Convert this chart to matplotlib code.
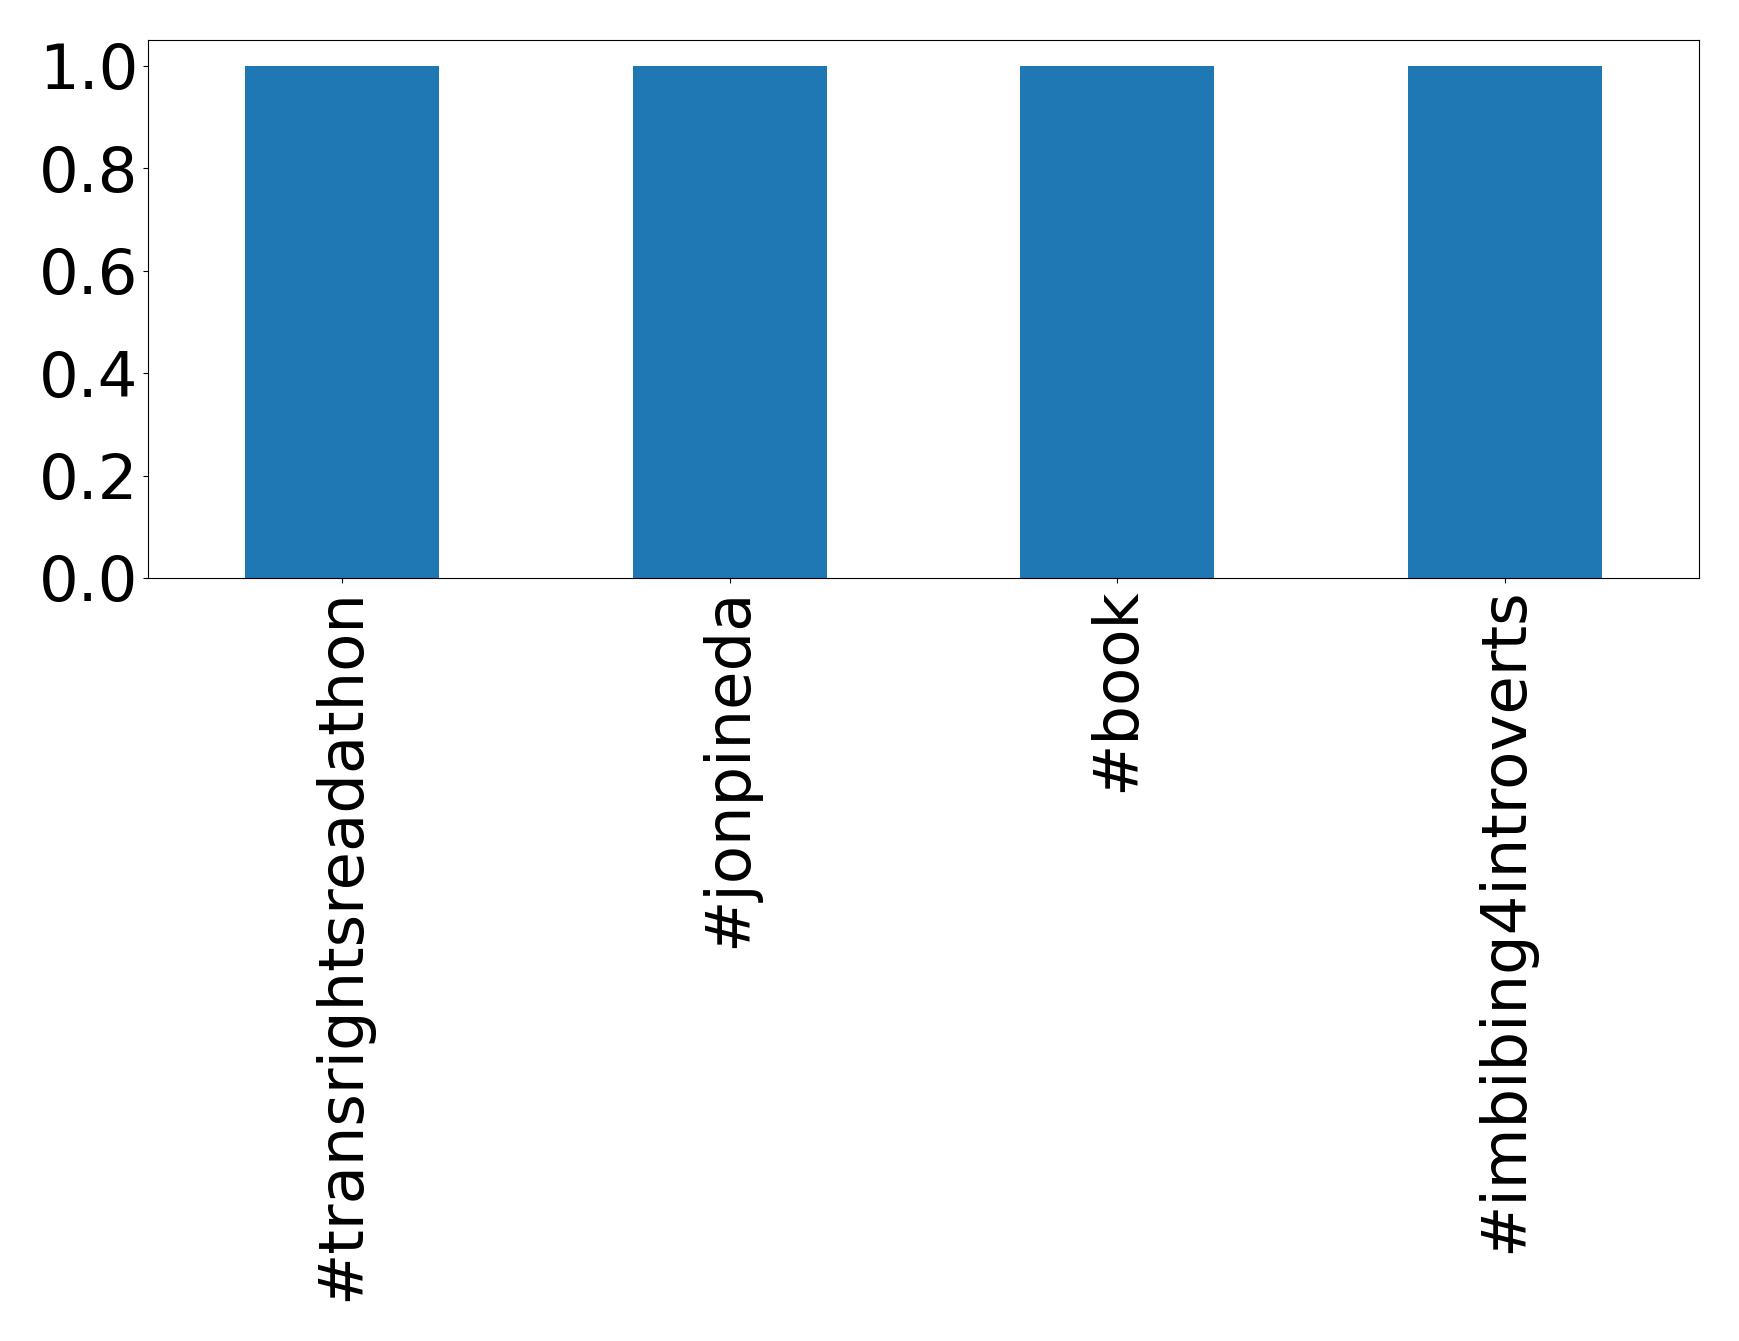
import matplotlib
matplotlib.use("Agg")
import matplotlib.pyplot as plt
import pandas as pd

hashtags = ["#transrightsreadathon", "#jonpineda", "#book", "#imbibing4introverts"]
counts = [1, 1, 1, 1]
yticks = [0.0, 0.2, 0.4, 0.6, 0.8, 1.0]

s = pd.Series(counts, index=hashtags)

fig = plt.figure(figsize=(17.39, 13.41), dpi=100)
ax = fig.add_axes([148 / 1739, 1 - 578 / 1341, (1699 - 148) / 1739, (578 - 40) / 1341])
s.plot(kind="bar", ax=ax, color="#1f77b4")
ax.set_yticks(yticks)
ax.tick_params(axis="both", labelsize=45)
plt.xticks(rotation=90)

fig.savefig("out.png", dpi=100)
